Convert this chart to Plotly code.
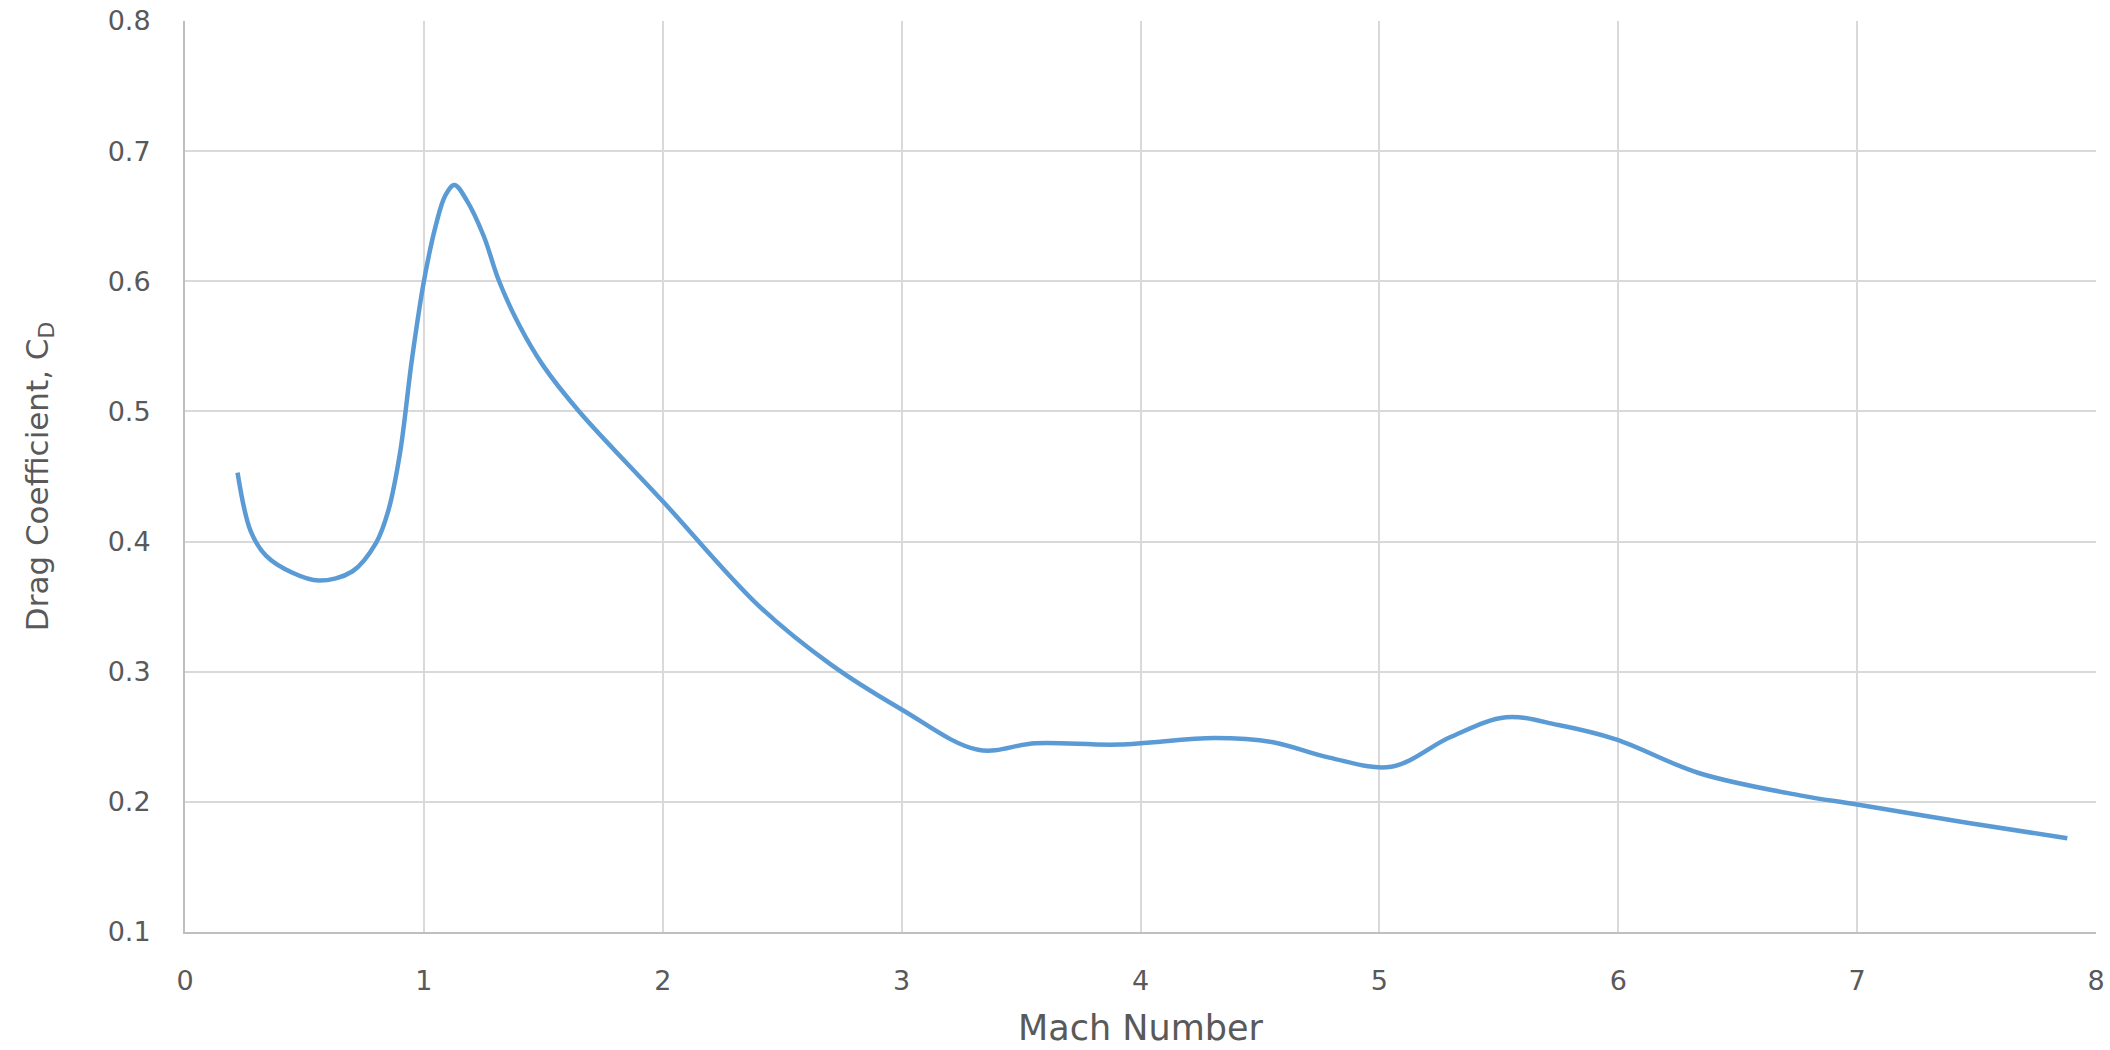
import plotly.graph_objects as go

mach = [0.22, 0.275, 0.34, 0.45, 0.56, 0.70, 0.80, 0.85, 0.90, 0.95, 1.00, 1.05, 1.09, 1.128, 1.18,
        1.25, 1.315, 1.40, 1.50, 1.65, 2.0, 2.4, 2.7, 3.0, 3.32, 3.56, 3.91, 4.31, 4.55, 4.79, 5.05,
        5.30, 5.53, 5.75, 5.99, 6.34, 6.76, 7.0, 7.46, 7.88]
cd = [0.453, 0.408, 0.389, 0.376, 0.370, 0.377, 0.399, 0.423, 0.468, 0.540, 0.600, 0.643, 0.666, 0.674, 0.662,
      0.635, 0.600, 0.566, 0.535, 0.500, 0.431, 0.351, 0.306, 0.271, 0.240, 0.245, 0.244, 0.249, 0.246,
      0.234, 0.227, 0.250, 0.265, 0.259, 0.248, 0.222, 0.205, 0.198, 0.184, 0.172]

x_ticks = [0, 1, 2, 3, 4, 5, 6, 7, 8]
y_ticks = [0.1, 0.2, 0.3, 0.4, 0.5, 0.6, 0.7, 0.8]

FONT = "DejaVu Sans"
TXT = "#595959"
GRID = "#D9D9D9"

fig = go.Figure()
fig.add_trace(go.Scatter(
    x=mach, y=cd, mode="lines",
    line=dict(color="#5B9BD5", width=4.5, shape="spline", smoothing=1.0),
    showlegend=False, hoverinfo="x+y",
))

fig.update_layout(
    width=2110, height=1050,
    margin=dict(l=185, r=14, t=21, b=118, autoexpand=False),
    paper_bgcolor="white", plot_bgcolor="white",
    font=dict(family=FONT, color=TXT, size=26),
)
fig.update_xaxes(
    range=[0, 8], tickvals=x_ticks, ticktext=[str(v) for v in x_ticks],
    showgrid=True, gridcolor=GRID, gridwidth=2,
    showline=True, linecolor="#BFBFBF", linewidth=2,
    zeroline=False, ticks="", ticklabelstandoff=24, automargin=False,
    ticklabeloverflow="allow",
    tickfont=dict(size=27, color=TXT, family=FONT),
    title=dict(text="Mach Number", font=dict(size=35, color=TXT, family=FONT), standoff=20),
)
fig.update_yaxes(
    range=[0.1, 0.8], tickvals=y_ticks, ticktext=[f"{v:.1f}" for v in y_ticks],
    showgrid=True, gridcolor=GRID, gridwidth=2,
    showline=True, linecolor="#BFBFBF", linewidth=2,
    zeroline=False, ticks="", ticklabelstandoff=27, automargin=False,
    ticklabeloverflow="allow",
    tickfont=dict(size=27, color=TXT, family=FONT),
    title=dict(text="Drag Coefficient, C<sub>D</sub>", font=dict(size=31, color=TXT, family=FONT), standoff=50),
)

fig.write_html(
    "out.html",
    config={"displayModeBar": False},
    post_script="document.body.style.margin='0';document.body.style.overflow='hidden';",
)
